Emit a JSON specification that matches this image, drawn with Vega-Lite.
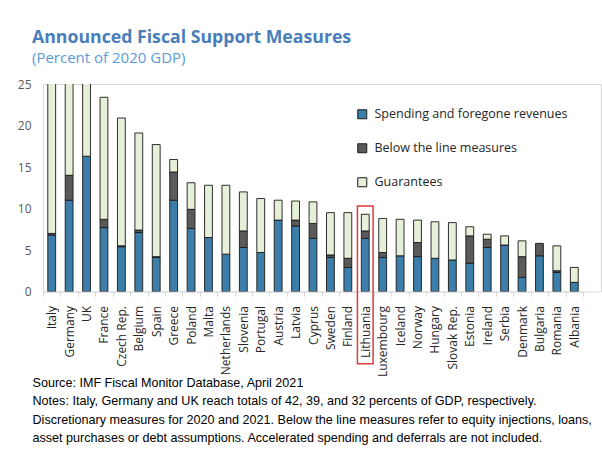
{
  "$schema": "https://vega.github.io/schema/vega-lite/v6.json",
  "width": 558,
  "height": 207.5,
  "autosize": {"type": "none"},
  "padding": {"left": 43, "top": 84, "right": 1, "bottom": 160.5},
  "background": "white",
  "config": {"view": {"stroke": "#d9d9d9", "strokeWidth": 1}},
  "title": {
    "text": "Announced Fiscal Support Measures",
    "subtitle": "(Percent of 2020 GDP)",
    "anchor": "start",
    "frame": "group",
    "dx": -11,
    "offset": 12,
    "font": "Open Sans",
    "fontSize": 17.7,
    "fontWeight": "bold",
    "color": "#4a7ebb",
    "subtitleFont": "Open Sans",
    "subtitleFontSize": 15,
    "subtitleColor": "#5b9bd5",
    "subtitlePadding": 4
  },
  "data": {
    "values": [
      {"c": "Italy", "s1": 6.8, "s2": 0.2, "s3": 35.0},
      {"c": "Germany", "s1": 11.0, "s2": 3.0, "s3": 25.0},
      {"c": "UK", "s1": 16.3, "s2": 0, "s3": 15.7},
      {"c": "France", "s1": 7.7, "s2": 1.0, "s3": 14.7},
      {"c": "Czech Rep.", "s1": 5.4, "s2": 0.1, "s3": 15.4},
      {"c": "Belgium", "s1": 7.1, "s2": 0.3, "s3": 11.7},
      {"c": "Spain", "s1": 4.1, "s2": 0.1, "s3": 13.5},
      {"c": "Greece", "s1": 11.0, "s2": 3.4, "s3": 1.5},
      {"c": "Poland", "s1": 7.6, "s2": 2.3, "s3": 3.2},
      {"c": "Malta", "s1": 6.5, "s2": 0, "s3": 6.3},
      {"c": "Netherlands", "s1": 4.5, "s2": 0, "s3": 8.3},
      {"c": "Slovenia", "s1": 5.3, "s2": 2.0, "s3": 4.7},
      {"c": "Portugal", "s1": 4.7, "s2": 0, "s3": 6.5},
      {"c": "Austria", "s1": 8.6, "s2": 0, "s3": 2.4},
      {"c": "Latvia", "s1": 7.9, "s2": 0.7, "s3": 2.3},
      {"c": "Cyprus", "s1": 6.4, "s2": 1.8, "s3": 2.6},
      {"c": "Sweden", "s1": 4.1, "s2": 0.3, "s3": 5.1},
      {"c": "Finland", "s1": 2.9, "s2": 1.1, "s3": 5.5},
      {"c": "Lithuania", "s1": 6.4, "s2": 0.9, "s3": 2.0},
      {"c": "Luxembourg", "s1": 4.1, "s2": 0.6, "s3": 4.1},
      {"c": "Iceland", "s1": 4.3, "s2": 0, "s3": 4.4},
      {"c": "Norway", "s1": 4.2, "s2": 1.7, "s3": 2.7},
      {"c": "Hungary", "s1": 4.0, "s2": 0, "s3": 4.4},
      {"c": "Slovak Rep.", "s1": 3.8, "s2": 0, "s3": 4.5},
      {"c": "Estonia", "s1": 3.4, "s2": 3.3, "s3": 1.1},
      {"c": "Ireland", "s1": 5.3, "s2": 1.0, "s3": 0.6},
      {"c": "Serbia", "s1": 5.6, "s2": 0, "s3": 1.1},
      {"c": "Denmark", "s1": 1.7, "s2": 2.5, "s3": 1.9},
      {"c": "Bulgaria", "s1": 4.3, "s2": 1.5, "s3": 0},
      {"c": "Romania", "s1": 2.3, "s2": 0.2, "s3": 3.0},
      {"c": "Albania", "s1": 1.1, "s2": 0, "s3": 1.8}
    ]
  },
  "layer": [
    {
      "transform": [
        {"fold": ["s1", "s2", "s3"], "as": ["s", "v"]},
        {"filter": "datum.v > 0"}
      ],
      "mark": {"type": "bar", "clip": true, "stroke": "#1a1a1a", "strokeWidth": 0.9, "width": {"band": 0.45}},
      "encoding": {
        "x": {
          "field": "c",
          "type": "nominal",
          "sort": null,
          "scale": {"range": [0, 540], "paddingInner": 0, "paddingOuter": 0},
          "axis": {
            "labelAngle": -90,
            "labelFont": "Open Sans",
            "labelFontSize": 12,
            "labelColor": "#262626",
            "labelPadding": 9,
            "domainColor": "#d9d9d9",
            "ticks": true,
            "tickBand": "extent",
            "tickColor": "#d9d9d9",
            "tickSize": 5,
            "title": [
              "Source: IMF Fiscal Monitor Database, April 2021",
              "Notes: Italy, Germany and UK reach totals of 42, 39, and 32 percents of GDP, respectively.",
              "Discretionary measures for 2020 and 2021.  Below the line measures refer to equity injections, loans,",
              "asset purchases or debt assumptions. Accelerated spending and deferrals are not included."
            ],
            "titleAnchor": "start",
            "titleAlign": "left",
            "titleBaseline": "alphabetic",
            "titleX": -11,
            "titleY": 95,
            "titleFont": "Liberation Sans",
            "titleFontSize": 12.6,
            "titleFontWeight": "normal",
            "titleColor": "#000000",
            "titleLineHeight": 18.3
          }
        },
        "y": {
          "field": "v",
          "type": "quantitative",
          "stack": "zero",
          "scale": {"domain": [0, 25], "nice": false},
          "axis": {
            "values": [0, 5, 10, 15, 20, 25],
            "domain": false,
            "ticks": false,
            "grid": false,
            "labelFont": "Open Sans",
            "labelFontSize": 12,
            "labelColor": "#595959",
            "labelPadding": 12,
            "title": null
          }
        },
        "order": {"field": "s", "type": "ordinal", "sort": "ascending"},
        "color": {
          "field": "s",
          "type": "nominal",
          "scale": {"domain": ["s1", "s2", "s3"], "range": ["#3c7ea9", "#5a5a5a", "#e6efd8"]},
          "legend": {
            "title": null,
            "orient": "none",
            "legendX": 313,
            "legendY": 24,
            "symbolType": "square",
            "symbolSize": 81,
            "symbolStrokeColor": "#1a1a1a",
            "symbolStrokeWidth": 1,
            "labelFont": "Open Sans",
            "labelFontSize": 12.5,
            "labelColor": "#262626",
            "labelOffset": 6,
            "labelLimit": 400,
            "rowPadding": 20,
            "labelExpr": "datum.label == 's1' ? 'Spending and foregone revenues' : datum.label == 's2' ? 'Below the line measures' : 'Guarantees'"
          }
        }
      }
    },
    {
      "data": {"values": [{"c": "Lithuania"}]},
      "mark": {"type": "bar", "filled": false, "stroke": "#e03a3a", "strokeWidth": 1.5, "clip": false, "width": {"band": 0.9}},
      "encoding": {
        "x": {"field": "c", "type": "nominal", "sort": null},
        "y": {"datum": 10.3},
        "y2": {"datum": -8.7}
      }
    }
  ]
}
